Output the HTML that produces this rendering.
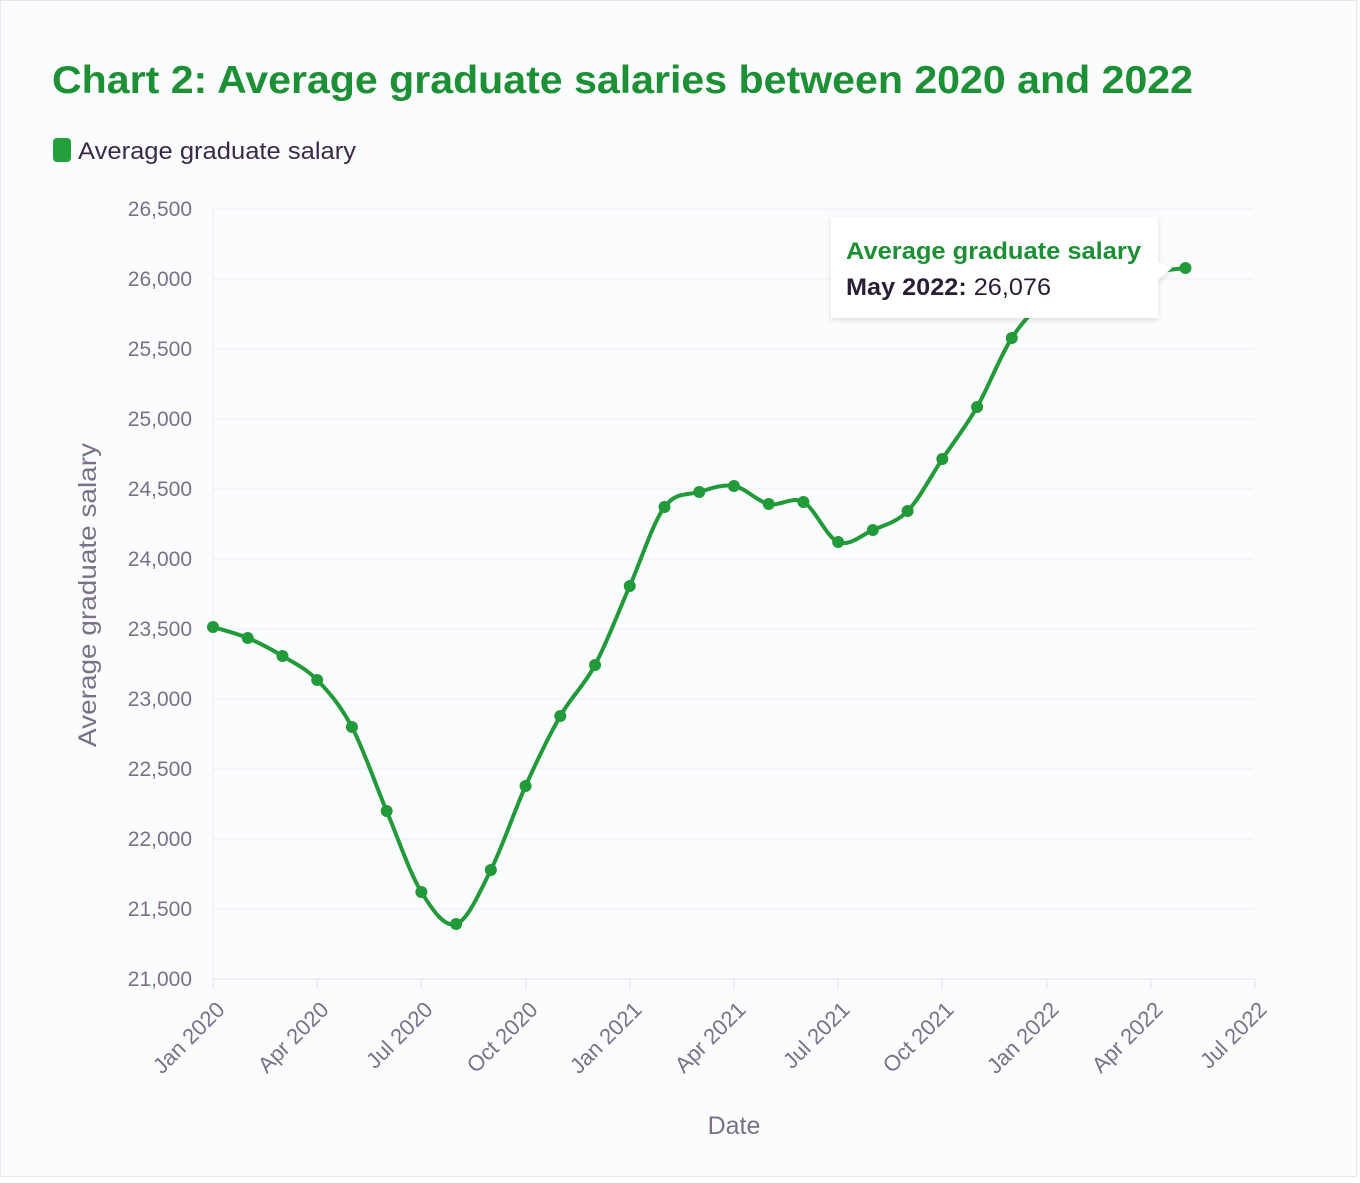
<!DOCTYPE html>
<html><head><meta charset="utf-8"><style>
html,body{margin:0;padding:0;background:#fff;}
body{width:1360px;height:1178px;overflow:hidden;font-family:"Liberation Sans","DejaVu Sans",sans-serif;}
</style></head><body>
<svg width="1360" height="1178" xmlns="http://www.w3.org/2000/svg" font-family="Liberation Sans, DejaVu Sans, sans-serif">
<rect x="0.5" y="0.5" width="1356" height="1176" fill="#fbfcfe" stroke="#e6e8ec"/>
<text x="52" y="93" font-size="39" font-weight="bold" fill="#1d8f35" textLength="1141" lengthAdjust="spacingAndGlyphs">Chart 2: Average graduate salaries between 2020 and 2022</text>
<rect x="53" y="138" width="18" height="24" rx="4" fill="#22a03c"/>
<text x="78" y="159" font-size="24" fill="#3a2a4a" textLength="278" lengthAdjust="spacingAndGlyphs">Average graduate salary</text>
<g stroke="#eceef2" stroke-width="1">
<line x1="213" y1="209" x2="1253" y2="209"/><line x1="213" y1="279" x2="1253" y2="279"/><line x1="213" y1="349" x2="1253" y2="349"/><line x1="213" y1="419" x2="1253" y2="419"/><line x1="213" y1="489" x2="1253" y2="489"/><line x1="213" y1="559" x2="1253" y2="559"/><line x1="213" y1="629" x2="1253" y2="629"/><line x1="213" y1="699" x2="1253" y2="699"/><line x1="213" y1="769" x2="1253" y2="769"/><line x1="213" y1="839" x2="1253" y2="839"/><line x1="213" y1="909" x2="1253" y2="909"/>
<line x1="213" y1="979" x2="1255" y2="979" stroke="#e2e4e8"/>
<line x1="213" y1="209" x2="213" y2="979"/>
</g>
<g stroke="#e2e4e8"><line x1="213" y1="979" x2="213" y2="989"/><line x1="317" y1="979" x2="317" y2="989"/><line x1="421" y1="979" x2="421" y2="989"/><line x1="526" y1="979" x2="526" y2="989"/><line x1="630" y1="979" x2="630" y2="989"/><line x1="734" y1="979" x2="734" y2="989"/><line x1="838" y1="979" x2="838" y2="989"/><line x1="942" y1="979" x2="942" y2="989"/><line x1="1047" y1="979" x2="1047" y2="989"/><line x1="1151" y1="979" x2="1151" y2="989"/><line x1="1255" y1="979" x2="1255" y2="989"/></g>
<g font-size="21" fill="#7a7088" text-anchor="end">
<text x="192" y="216">26,500</text><text x="192" y="286">26,000</text><text x="192" y="356">25,500</text><text x="192" y="426">25,000</text><text x="192" y="496">24,500</text><text x="192" y="566">24,000</text><text x="192" y="636">23,500</text><text x="192" y="706">23,000</text><text x="192" y="776">22,500</text><text x="192" y="846">22,000</text><text x="192" y="916">21,500</text><text x="192" y="986">21,000</text>
</g>
<g font-size="22" fill="#7a7088" text-anchor="end">
<text transform="translate(226,1011) rotate(-45)">Jan 2020</text>
<text transform="translate(330,1011) rotate(-45)">Apr 2020</text>
<text transform="translate(434,1011) rotate(-45)">Jul 2020</text>
<text transform="translate(539,1011) rotate(-45)">Oct 2020</text>
<text transform="translate(643,1011) rotate(-45)">Jan 2021</text>
<text transform="translate(747,1011) rotate(-45)">Apr 2021</text>
<text transform="translate(851,1011) rotate(-45)">Jul 2021</text>
<text transform="translate(955,1011) rotate(-45)">Oct 2021</text>
<text transform="translate(1060,1011) rotate(-45)">Jan 2022</text>
<text transform="translate(1164,1011) rotate(-45)">Apr 2022</text>
<text transform="translate(1268,1011) rotate(-45)">Jul 2022</text>
</g>
<text x="734" y="1134" font-size="25" fill="#7a7088" text-anchor="middle">Date</text>
<text transform="translate(96,595) rotate(-90)" font-size="25" fill="#7a7088" text-anchor="middle" textLength="304" lengthAdjust="spacingAndGlyphs">Average graduate salary</text>
<path id="ln" fill="none" stroke="#229a3a" stroke-width="4" stroke-linejoin="round" stroke-linecap="round"/>
<g id="pts" fill="#229a3a"></g>
<filter id="sh" x="-10%" y="-10%" width="120%" height="130%"><feDropShadow dx="0" dy="2" stdDeviation="3" flood-color="#000" flood-opacity="0.12"/></filter>
<path d="M831 217 H1158 V262 L1172 268 L1158 280 V318 H831 Z" fill="#fff" filter="url(#sh)"/>
<text x="846" y="259" font-size="24" font-weight="bold" fill="#1d8f35" textLength="295" lengthAdjust="spacingAndGlyphs">Average graduate salary</text>
<text x="846" y="295" font-size="24" fill="#2a1e36" textLength="205" lengthAdjust="spacingAndGlyphs"><tspan font-weight="bold">May 2022:</tspan> 26,076</text>
</svg>
<script>
var ys=[627,638,656,680,727,811,892,924,870,786,716,665,586,507,492,486,504,502,542,530,511,459,407,338,300,285,278,272,268];
var p=ys.map(function(y,i){return [213+i*34.73,y]});
var d="M"+p[0][0]+" "+p[0][1];
for(var i=0;i<p.length-1;i++){var a=p[i-1]||p[i],b=p[i],c=p[i+1],e=p[i+2]||c;
d+=" C"+(b[0]+(c[0]-a[0])/6)+" "+(b[1]+(c[1]-a[1])/6)+" "+(c[0]-(e[0]-b[0])/6)+" "+(c[1]-(e[1]-b[1])/6)+" "+c[0]+" "+c[1];}
document.getElementById("ln").setAttribute("d",d);
var g=document.getElementById("pts"),s="";
p.forEach(function(q){s+='<circle cx="'+q[0]+'" cy="'+q[1]+'" r="6"/>'});
g.innerHTML=s;
</script>
</body></html>
